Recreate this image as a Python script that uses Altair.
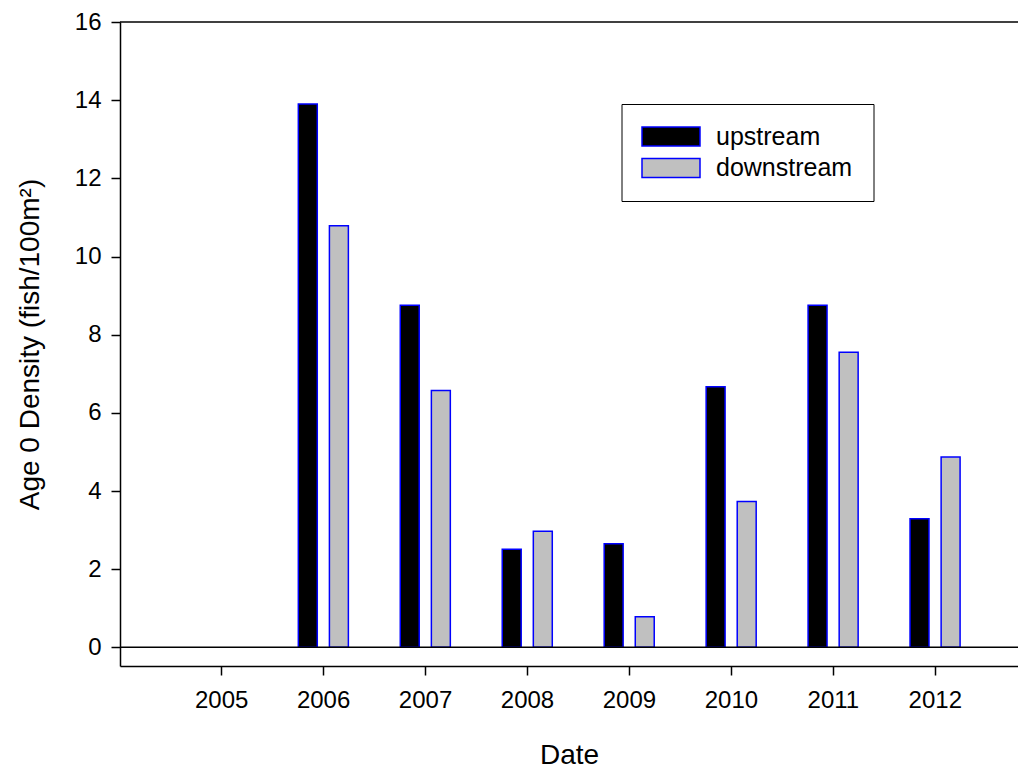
import altair as alt
import pandas as pd

# ---- data ----
years = [2006, 2007, 2008, 2009, 2010, 2011, 2012]
upstream = [13.90, 8.75, 2.51, 2.65, 6.67, 8.75, 3.29]
downstream = [10.79, 6.57, 2.97, 0.78, 3.73, 7.55, 4.87]
series_names = ["upstream", "downstream"]
x_ticks = [2005, 2006, 2007, 2008, 2009, 2010, 2011, 2012]
y_ticks = [0, 2, 4, 6, 8, 10, 12, 14, 16]
frame_lines = [0, 16]

rows = []
for yr, u, d in zip(years, upstream, downstream):
    rows.append({"year": yr, "series": "upstream", "density": u})
    rows.append({"year": yr, "series": "downstream", "density": d})
df = pd.DataFrame(rows)
lines_df = pd.DataFrame({"density": frame_lines})

FONT = "Liberation Sans"
xscale = alt.Scale(domain=[2004.008, 2012.816], nice=False, zero=False)
yscale = alt.Scale(domain=[-0.477, 16], nice=False, zero=False)

y_axis = alt.Axis(
    values=y_ticks,
    format="d",
    title="Age 0 Density (fish/100m²)",
    labelPadding=10,
    titlePadding=30,
)

legend = alt.Legend(
    title=" ",
    titleOrient="right",
    titlePadding=2,
    titleFont=FONT,
    titleFontSize=24,
    orient="none",
    legendX=501.5,
    legendY=82,
    strokeColor="black",
    fillColor="white",
    padding=19.5,
    clipHeight=26,
    symbolType="M-1,-0.3276H1V0.3276H-1Z",
    symbolSize=3364,
    symbolStrokeWidth=1.5,
    symbolOpacity=1,
    labelFont=FONT,
    labelFontSize=25,
    labelColor="black",
    labelOffset=15,
    rowPadding=5.5,
)

bars = (
    alt.Chart(df)
    .transform_calculate(
        x0="datum.series == 'upstream' ? datum.year - 0.243 : datum.year + 0.062",
        x1="datum.series == 'upstream' ? datum.year - 0.057 : datum.year + 0.248",
    )
    .mark_bar(strokeWidth=1.5, opacity=1)
    .encode(
        x=alt.X(
            "x0:Q",
            scale=xscale,
            axis=alt.Axis(
                values=x_ticks,
                format="d",
                title="Date",
                labelPadding=13,
                titlePadding=29,
            ),
        ),
        x2="x1:Q",
        y=alt.Y("density:Q", scale=yscale, axis=y_axis),
        y2=alt.datum(0),
        color=alt.Color(
            "series:N",
            scale=alt.Scale(domain=series_names, range=["black", "#c0c0c0"]),
            legend=legend,
        ),
        stroke=alt.Stroke(
            "series:N",
            scale=alt.Scale(domain=series_names, range=["blue", "blue"]),
            legend=legend,
        ),
    )
)

rules = (
    alt.Chart(lines_df)
    .mark_rule(color="black", strokeWidth=1.5)
    .encode(y=alt.Y("density:Q", scale=yscale, axis=y_axis))
)

chart = (
    alt.layer(bars, rules)
    .properties(
        width=898,
        height=644,
        autosize=alt.AutoSizeParams(type="none"),
        padding={"left": 112, "top": 14, "right": 0, "bottom": 104},
    )
    .configure_view(stroke=None)
    .configure_axis(
        labelFont=FONT,
        titleFont=FONT,
        labelFontSize=24,
        titleFontSize=28,
        titleFontWeight="normal",
        labelColor="black",
        titleColor="black",
        domainColor="black",
        tickColor="black",
        domainWidth=1.5,
        tickWidth=1.5,
        tickSize=9,
        grid=False,
    )
)

chart.save("out.html", embed_options={"renderer": "svg", "actions": False})
